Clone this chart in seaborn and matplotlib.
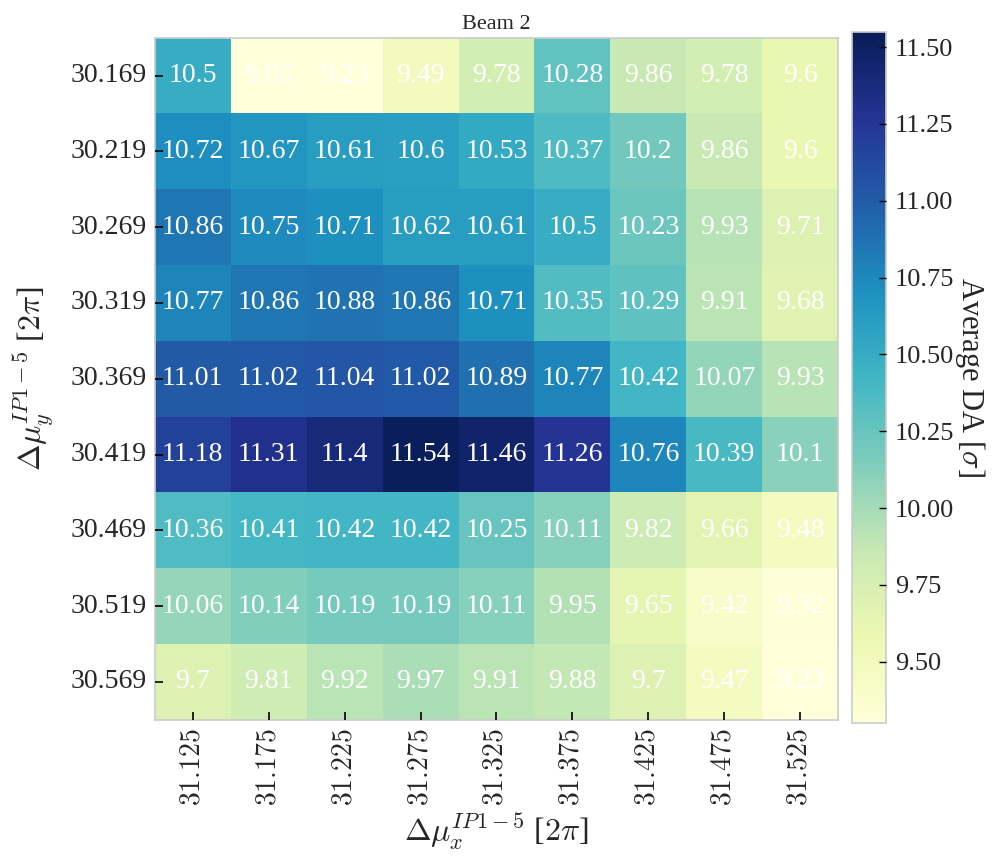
import numpy as np
import pandas as pd
import matplotlib
matplotlib.use("Agg")
import matplotlib.pyplot as plt
import matplotlib.ticker as mticker
import matplotlib.lines as mlines
import seaborn as sns

qx_labels = ["31.125", "31.175", "31.225", "31.275", "31.325", "31.375", "31.425", "31.475", "31.525"]
qy_labels = ["30.169", "30.219", "30.269", "30.319", "30.369", "30.419", "30.469", "30.519", "30.569"]

row_30169 = [10.5, 9.05, 9.23, 9.49, 9.78, 10.28, 9.86, 9.78, 9.6]
row_30219 = [10.72, 10.67, 10.61, 10.6, 10.53, 10.37, 10.2, 9.86, 9.6]
row_30269 = [10.86, 10.75, 10.71, 10.62, 10.61, 10.5, 10.23, 9.93, 9.71]
row_30319 = [10.77, 10.86, 10.88, 10.86, 10.71, 10.35, 10.29, 9.91, 9.68]
row_30369 = [11.01, 11.02, 11.04, 11.02, 10.89, 10.77, 10.42, 10.07, 9.93]
row_30419 = [11.18, 11.31, 11.4, 11.54, 11.46, 11.26, 10.76, 10.39, 10.1]
row_30469 = [10.36, 10.41, 10.42, 10.42, 10.25, 10.11, 9.82, 9.66, 9.48]
row_30519 = [10.06, 10.14, 10.19, 10.19, 10.11, 9.95, 9.65, 9.42, 9.32]
row_30569 = [9.7, 9.81, 9.92, 9.97, 9.91, 9.88, 9.7, 9.47, 9.23]

cbar_ticks = [9.50, 9.75, 10.00, 10.25, 10.50, 10.75, 11.00, 11.25, 11.50]

rows = [row_30169, row_30219, row_30269, row_30319, row_30369,
        row_30419, row_30469, row_30519, row_30569]
df = pd.DataFrame(rows, index=qy_labels, columns=qx_labels)

sns.set_style("white")
plt.rcParams["font.family"] = ["Liberation Serif", "DejaVu Serif"]
plt.rcParams["mathtext.fontset"] = "cm"
plt.rcParams["axes.axisbelow"] = False
plt.rcParams["xtick.direction"] = "in"
plt.rcParams["ytick.direction"] = "in"
plt.rcParams["xtick.major.size"] = 5
plt.rcParams["ytick.major.size"] = 5
plt.rcParams["xtick.bottom"] = True
plt.rcParams["ytick.left"] = True

fig = plt.figure(figsize=(10.05, 8.56), dpi=100)
ax = fig.add_axes([0.154, 0.159, 0.680, 0.797])
cax = fig.add_axes([0.848, 0.155, 0.034, 0.808])

sns.heatmap(df, ax=ax, cbar_ax=cax, cmap="YlGnBu", vmin=9.30, vmax=11.55,
            annot=True, fmt="g",
            annot_kws={"color": "white", "fontsize": 20},
            cbar_kws={"ticks": cbar_ticks, "format": mticker.FormatStrFormatter("%.2f")})
ax.set_axisbelow(False)
cax.set_axisbelow(False)

for s in ax.spines.values():
    s.set_visible(True)
    s.set_color("#cccccc")
    s.set_linewidth(1.2)
cb = ax.collections[0].colorbar
cb.outline.set_visible(True)
cb.outline.set_edgecolor("#cccccc")
cb.outline.set_linewidth(1.2)

ax.set_title("Beam 2", fontsize=16, pad=6)
ax.set_xlabel(r"$\Delta\mu_x^{IP1-5}$ [$2\pi$]", fontsize=23, labelpad=4)
ax.set_ylabel(r"$\Delta\mu_y^{IP1-5}$ [$2\pi$]", fontsize=23, labelpad=10)
ax.set_xticklabels([f"${l}$" for l in qx_labels], rotation=90, fontsize=20)
plt.setp(ax.get_yticklabels(), rotation=0)
ax.xaxis.set_tick_params(which="major", direction="in", length=6, width=1.2,
                         labelsize=20, color="black", bottom=True, pad=6)
ax.yaxis.set_tick_params(which="major", direction="in", length=6, width=1.2,
                         labelsize=20, color="black", left=True, pad=6)
for t in ax.xaxis.get_major_ticks():
    t.tick1line.set_marker(mlines.TICKUP)
    t.tick1line.set_zorder(10)
for t in ax.yaxis.get_major_ticks():
    t.tick1line.set_marker(mlines.TICKRIGHT)
    t.tick1line.set_zorder(10)
cax.tick_params(direction="in", length=5, width=1, labelsize=19, right=True,
                color="black", pad=6)
cax.set_ylabel(r"Average DA [$\sigma$]", fontsize=22, rotation=270, labelpad=24)

fig.savefig("out.png", dpi=100)
